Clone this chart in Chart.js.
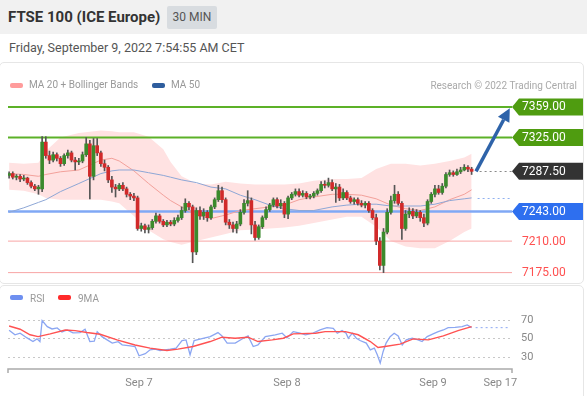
<!DOCTYPE html>
<html><head><meta charset="utf-8">
<script src="https://cdn.jsdelivr.net/npm/chart.js@4.4.0/dist/chart.umd.min.js"></script>
<style>
html,body{margin:0;padding:0;background:#fff;width:587px;height:396px;overflow:hidden;font-family:Roboto,Arial,sans-serif;}
.abs{position:absolute;white-space:nowrap;line-height:1;}
#hdr{position:absolute;left:0;top:0;width:587px;height:34px;background:#f1f1f1;}
#title{left:8px;top:10px;font-size:15px;font-weight:bold;color:#333;}
#badge{left:167px;top:6px;width:50px;height:23px;background:#d8dce0;color:#555;font-size:12px;line-height:23px;text-align:center;border-radius:2px;}
#date{left:9px;top:42px;font-size:12.5px;color:#555;}
.panel{position:absolute;border:1px solid #e6e6e6;border-radius:5px;}
.sw{position:absolute;width:13px;height:5px;border-radius:2px;}
.lg{font-size:10px;color:#999;}
canvas{position:absolute;left:0;}
</style></head>
<body>
<div id="hdr"></div>
<div class="abs" id="title">FTSE 100 (ICE Europe)</div>
<div class="abs" id="badge">30 MIN</div>
<div class="abs" id="date">Friday, September 9, 2022 7:54:55 AM CET</div>
<div class="panel" style="left:-1px;top:62px;width:583px;height:220px;"></div>
<div class="panel" style="left:-1px;top:285px;width:583px;height:120px;"></div>
<canvas id="main" width="587" height="222" style="top:62px"></canvas>
<canvas id="rsi" width="587" height="110" style="top:286px"></canvas>
<div class="sw" style="left:10px;top:83px;background:#ff9c9c"></div>
<div class="abs lg" style="left:29px;top:80px;">MA 20 + Bollinger Bands</div>
<div class="sw" style="left:152px;top:83px;background:#2f5e9e"></div>
<div class="abs lg" style="left:171px;top:80px;">MA 50</div>
<div class="abs lg" style="right:10px;top:80.5px;color:#aaa;">Research © 2022 Trading Central</div>
<div class="sw" style="left:10px;top:295px;background:#6e8ff0"></div>
<div class="abs lg" style="left:30px;top:293.5px;">RSI</div>
<div class="sw" style="left:58px;top:295px;background:#ff2a2a"></div>
<div class="abs lg" style="left:78px;top:293.5px;">9MA</div>
<script>
// ---------- DATA (30-min candles, index 0..126) ----------
const opens  = [7283,7285,7281,7282,7279,7280,7275,7271,7268,7268,7320,7305,7300,7306,7302,7296,7305,7308,7300,7298,7299,7306,7318,7282,7316,7308,7296,7292,7278,7270,7268,7272,7268,7262,7260,7258,7224,7227,7223,7225,7232,7238,7232,7228,7231,7229,7233,7236,7244,7252,7248,7198,7244,7238,7242,7236,7248,7256,7266,7256,7231,7228,7224,7229,7242,7252,7255,7228,7214,7226,7236,7245,7250,7256,7249,7252,7240,7258,7262,7265,7261,7263,7259,7260,7263,7266,7273,7272,7275,7268,7270,7258,7264,7258,7254,7256,7252,7250,7252,7244,7236,7210,7183,7220,7242,7255,7262,7252,7224,7240,7243,7238,7242,7236,7230,7254,7262,7268,7264,7271,7284,7286,7284,7287,7289,7292,7290];
const highs  = [7287,7287,7284,7284,7283,7281,7277,7273,7272,7326,7326,7310,7309,7308,7304,7307,7311,7310,7303,7302,7309,7325,7322,7324,7324,7310,7300,7294,7282,7273,7274,7275,7270,7264,7263,7260,7230,7229,7228,7234,7241,7240,7234,7233,7233,7236,7239,7248,7257,7254,7250,7247,7248,7246,7244,7250,7258,7272,7270,7258,7234,7231,7232,7245,7256,7266,7258,7232,7228,7238,7248,7252,7258,7258,7256,7254,7260,7264,7268,7268,7266,7265,7262,7265,7268,7276,7277,7280,7278,7274,7273,7268,7266,7260,7258,7258,7255,7254,7254,7246,7240,7214,7224,7246,7260,7272,7265,7254,7244,7247,7246,7245,7244,7240,7256,7264,7272,7272,7274,7286,7289,7288,7290,7292,7295,7294,7292];
const lows   = [7280,7279,7278,7276,7277,7273,7269,7266,7262,7265,7302,7296,7298,7299,7293,7294,7302,7298,7289,7295,7297,7304,7257,7278,7305,7293,7288,7275,7264,7259,7266,7266,7259,7256,7255,7222,7221,7219,7219,7223,7230,7230,7226,7226,7227,7227,7231,7234,7242,7245,7186,7195,7234,7234,7232,7234,7246,7254,7253,7228,7224,7220,7219,7227,7240,7249,7218,7211,7212,7224,7234,7243,7248,7247,7246,7236,7235,7256,7260,7259,7259,7257,7257,7258,7261,7264,7269,7270,7266,7253,7255,7256,7256,7252,7251,7250,7248,7247,7242,7234,7206,7178,7175,7218,7240,7252,7250,7212,7222,7236,7235,7236,7232,7226,7228,7252,7259,7262,7262,7269,7282,7282,7283,7285,7288,7287,7284];
const closes = [7285,7281,7282,7279,7280,7275,7271,7268,7270,7320,7305,7300,7306,7302,7296,7305,7308,7300,7298,7299,7306,7318,7282,7316,7308,7296,7292,7278,7270,7268,7272,7268,7262,7260,7258,7224,7227,7223,7225,7232,7238,7232,7228,7231,7229,7233,7236,7244,7252,7248,7198,7244,7238,7242,7236,7248,7256,7266,7256,7231,7228,7224,7229,7242,7252,7255,7228,7214,7226,7236,7245,7250,7256,7249,7252,7240,7258,7262,7265,7261,7263,7259,7260,7263,7266,7273,7272,7275,7268,7270,7258,7264,7258,7254,7256,7252,7250,7252,7244,7236,7210,7183,7220,7242,7255,7262,7252,7224,7240,7243,7238,7242,7236,7230,7254,7262,7268,7264,7271,7284,7286,7284,7287,7289,7292,7290,7287.5];

// indicator readings (candle index -> value)
const maIdx   = [0,4,8,10,14,19,25,28,30,34,38,42,44,47,51,55,59,63,67,71,75,79,83,88,92,96,100,104,108,112,116,120,124,126];
const ma20    = [7285,7284,7282,7284,7287,7289,7300,7302,7299,7288,7274,7261,7255,7248,7239,7235,7239,7244,7246,7248,7250,7256,7259,7262,7262,7261,7257,7250,7246,7244,7248,7256,7262,7267];
const ma50    = [7242,7247,7253,7256,7265,7274,7285,7288,7289,7289,7286,7283,7281,7278,7275,7270,7268,7261,7256,7250,7246,7244,7244,7248,7250,7251,7251,7249,7249,7249,7251,7255,7257,7258];
const bbUpper = [7297,7296,7297,7310,7325,7330,7333,7332,7331,7331,7326,7312,7298,7282,7274,7273,7276,7274,7273,7273,7273,7274,7277,7279,7279,7280,7290,7296,7296,7294,7296,7299,7303,7307];
const bbLower = [7267,7266,7262,7258,7256,7256,7256,7254,7252,7238,7222,7212,7209,7206,7210,7214,7218,7222,7223,7224,7225,7227,7230,7234,7237,7237,7226,7210,7204,7202,7202,7210,7220,7224];

const rsiIdx = [0,1.6,3,4.9,6.5,7.6,8.4,9,10.4,11.7,13.1,14.4,15.8,17.4,19.3,20.7,22,23.2,24,25.3,26.7,28.1,29.7,30.8,33,34.3,35.4,37.1,38.4,39.8,41.1,42.5,43.9,45.5,47.1,48.2,49.3,50.4,52,54.8,56.9,58,59.4,61.6,63.8,65.1,66.5,67.8,69.8,72.5,74.4,75.7,77.4,79.3,80.7,82.8,84.7,86.6,88.3,89.4,90.7,91.8,92.4,93.5,94.6,95.6,97.3,98.4,99.5,100.3,101.1,101.9,102.7,103.8,104.9,106,107.1,108.2,109.8,111.4,112.5,113.9,115.5,116.9,118.3,119.6,121.5,123.4,124.8,126];
const rsiVal = [59,54,55.7,50.6,46.7,49.6,46.7,69.3,62.8,60.3,61.4,57,59.2,56,56.4,60,46.7,47,57.4,52,48.5,45,46.5,43.1,42,41.3,31.3,33.5,37.7,38.5,37,37.7,38.5,39.6,47.8,48.5,32.4,47.8,49.2,52,56.4,52.8,45,45,50.3,52.8,41.3,43,52,54,55.7,50.6,57.4,55.7,54,55.7,59.2,61.7,61,55.7,58.5,55.7,50.3,55.7,50.3,47.8,45,37.7,39.6,32.4,23.4,36,45,52,55.7,52.8,43,48.5,50.3,48.5,46.7,52,55,57.4,59.2,61.7,62,62.8,64.6,61.7];
const ma9Idx = [0,3,5.7,7.9,11.2,15.3,18,21.2,24.8,29.4,34.3,38.4,43,46,50.1,54.8,58,61.6,65.1,67.8,71.7,74.7,77.4,83.5,86.1,91.6,95.1,98.4,100.5,102.4,106.5,110.1,114.2,118.3,122.3,126];
const ma9Val = [63.5,60,54,52,55,59.2,58.5,56.4,54.6,48.5,43,39.6,37,38.5,41.3,46.7,51.4,50.3,51.4,46.7,48.5,50.3,55,55.7,57.4,57.4,54,46.7,40.2,41.3,43.9,49.6,48.5,52.8,58.5,62.8];

const levelValues = [7359, 7325, 7287.5, 7243, 7210, 7175];
const levelKinds  = ['resistance','resistance','last','pivot','support','support'];
const levelLabels = ['7359.00','7325.00','7287.50','7243.00','7210.00','7175.00'];
const arrowFrom = [127.2, 7287.5];
const arrowTo   = [136.4, 7357.5];
const rsiGrid = [70, 50, 30];
const tickPositions = [35.4, 75.7, 115.5, 133.8];
const tickLabels = ['Sep 7', 'Sep 8', 'Sep 9', 'Sep 17'];

// ---------- STYLES ----------
const LEVEL_STYLE = {
  resistance: {line:'#5cb128', width:2, tag:'#4f9c10', text:'#fff'},
  last:       {line:'#8a8a8a', width:1, dash:[2,3], tag:'#333', text:'#fff'},
  pivot:      {line:'#80a8f5', width:2.5, tag:'#2e6fef', text:'#fff'},
  support:    {line:'#f8a5a5', width:1, tag:null, text:'#ff5050'}
};
const FONT = 'Roboto, Arial, sans-serif';
const X_RANGE = {min:-0.3, max:137};
const pts = (xs, ys) => xs.map((x,k)=>({x, y:ys[k]}));
const idx = opens.map((_, i) => i);

const mainPlugin = {
  id: 'mainDeco',
  afterDatasetDraw(chart, args) {
    if (chart.data.datasets[args.index].label !== 'bbL') return;
    const {ctx, chartArea:a, scales:{y}} = chart;
    ctx.save();
    levelValues.forEach((v,k) => {
      const st = LEVEL_STYLE[levelKinds[k]];
      if (st.dash) return;
      const py = y.getPixelForValue(v);
      ctx.strokeStyle = st.line; ctx.lineWidth = st.width;
      ctx.beginPath(); ctx.moveTo(a.left, py); ctx.lineTo(a.right, py); ctx.stroke();
    });
    ctx.restore();
  },
  afterDatasetsDraw(chart) {
    const {ctx, chartArea:a, scales:{x, y}} = chart;
    ctx.save();
    const lastX = x.getPixelForValue(idx.length - 1);
    levelValues.forEach((v,k) => {
      const st = LEVEL_STYLE[levelKinds[k]];
      if (!st.dash) return;
      const py = Math.round(y.getPixelForValue(v)) + 0.5;
      ctx.strokeStyle = st.line; ctx.lineWidth = st.width; ctx.setLineDash(st.dash);
      ctx.beginPath(); ctx.moveTo(lastX + 8, py); ctx.lineTo(a.right, py); ctx.stroke();
    });
    const m50y = Math.round(y.getPixelForValue(ma50[ma50.length-1])) + 0.5;
    ctx.strokeStyle = '#8fb0f0'; ctx.lineWidth = 1; ctx.setLineDash([2,3]);
    ctx.beginPath(); ctx.moveTo(x.getPixelForValue(maIdx[maIdx.length-1]) + 6, m50y); ctx.lineTo(a.right, m50y); ctx.stroke();
    ctx.setLineDash([]);
    const x0 = x.getPixelForValue(arrowFrom[0]), y0 = y.getPixelForValue(arrowFrom[1]);
    const x1 = x.getPixelForValue(arrowTo[0]), y1 = y.getPixelForValue(arrowTo[1]);
    const ang = Math.atan2(y1 - y0, x1 - x0), hl = 13, hw = 6.5;
    const bx = x1 - hl*Math.cos(ang), by = y1 - hl*Math.sin(ang);
    ctx.strokeStyle = '#2e63a9'; ctx.fillStyle = '#2e63a9'; ctx.lineWidth = 3.5;
    ctx.beginPath(); ctx.moveTo(x0, y0); ctx.lineTo(bx, by); ctx.stroke();
    ctx.beginPath(); ctx.moveTo(x1, y1);
    ctx.lineTo(bx + hw*Math.sin(ang), by - hw*Math.cos(ang));
    ctx.lineTo(bx - hw*Math.sin(ang), by + hw*Math.cos(ang));
    ctx.closePath(); ctx.fill();
    ctx.font = '12px ' + FONT; ctx.textBaseline = 'middle'; ctx.textAlign = 'left';
    levelValues.forEach((v,k) => {
      const st = LEVEL_STYLE[levelKinds[k]];
      const py = y.getPixelForValue(v);
      const L = a.right, R = chart.width - 4, h = 8.5;
      if (st.tag) {
        ctx.fillStyle = st.tag;
        ctx.beginPath(); ctx.moveTo(L, py); ctx.lineTo(L + 7, py - h); ctx.lineTo(R, py - h);
        ctx.lineTo(R, py + h); ctx.lineTo(L + 7, py + h); ctx.closePath(); ctx.fill();
      }
      ctx.fillStyle = st.text;
      ctx.fillText(levelLabels[k], L + 10, py + 0.5);
    });
    ctx.restore();
  }
};

new Chart(document.getElementById('main'), {
  type: 'bar',
  data: { datasets: [
    {type:'line', label:'bbU', data: pts(maIdx, bbUpper), borderColor:'transparent', borderWidth:0, pointRadius:0, fill:'+1', backgroundColor:'#ffe2e2', order:6},
    {type:'line', label:'bbL', data: pts(maIdx, bbLower), borderColor:'transparent', borderWidth:0, pointRadius:0, fill:false, order:5},
    {type:'line', label:'ma20', data: pts(maIdx, ma20), borderColor:'#f3a19b', borderWidth:1, pointRadius:0, fill:false, order:3},
    {type:'line', label:'ma50', data: pts(maIdx, ma50), borderColor:'#8ea7d6', borderWidth:1, pointRadius:0, fill:false, order:2},
    {label:'wick', data: idx.map(i=>({x:i, y:[lows[i], highs[i]]})), backgroundColor:'#555', barThickness:1, grouped:false, order:1},
    {label:'body', data: idx.map(i=>({x:i, y:[opens[i], closes[i]]})), backgroundColor: idx.map(i => closes[i] >= opens[i] ? '#3b8a2c' : '#d12a2a'), barThickness:3, grouped:false, minBarLength:1, order:0}
  ]},
  options: {
    responsive:false, animation:false, devicePixelRatio:1,
    layout:{padding:{left:8, right:75, top:33, bottom:4}},
    plugins:{legend:{display:false}, tooltip:{enabled:false}},
    scales:{
      x:{type:'linear', min:X_RANGE.min, max:X_RANGE.max, display:false, offset:false},
      y:{min:7166.8, max:7372.3, display:false}
    }
  },
  plugins:[mainPlugin]
});

const rsiPlugin = {
  id: 'rsiDeco',
  beforeDatasetsDraw(chart) {
    const {ctx, chartArea:a, scales:{y}} = chart;
    ctx.save();
    ctx.strokeStyle = '#c8c8c8'; ctx.lineWidth = 1; ctx.setLineDash([2,3]);
    ctx.font = '11px ' + FONT; ctx.fillStyle = '#888'; ctx.textBaseline = 'middle';
    rsiGrid.forEach(v => {
      const py = Math.round(y.getPixelForValue(v)) + 0.5;
      ctx.beginPath(); ctx.moveTo(a.left, py); ctx.lineTo(a.right, py); ctx.stroke();
      ctx.fillText(String(v), a.right + 9, py);
    });
    ctx.restore();
  },
  afterDatasetsDraw(chart) {
    const {ctx, chartArea:a, scales:{x, y}} = chart;
    ctx.save();
    const ly = y.getPixelForValue(rsiVal[rsiVal.length-1]);
    ctx.strokeStyle = '#8ba6f2'; ctx.lineWidth = 1; ctx.setLineDash([2,3]);
    ctx.beginPath(); ctx.moveTo(x.getPixelForValue(rsiIdx[rsiIdx.length-1]) + 4, ly); ctx.lineTo(a.right - 2, ly); ctx.stroke();
    ctx.setLineDash([]);
    ctx.strokeStyle = '#aaa'; ctx.lineWidth = 1.5;
    const by = a.bottom;
    ctx.beginPath(); ctx.moveTo(a.left, by + 4); ctx.lineTo(a.left, by); ctx.lineTo(a.right, by); ctx.lineTo(a.right, by + 4); ctx.stroke();
    ctx.font = '11px ' + FONT; ctx.fillStyle = '#888'; ctx.textAlign = 'center'; ctx.textBaseline = 'alphabetic';
    tickPositions.forEach((t,k) => ctx.fillText(tickLabels[k], x.getPixelForValue(t), by + 16.5));
    ctx.restore();
  }
};

new Chart(document.getElementById('rsi'), {
  type: 'line',
  data: { datasets: [
    {label:'rsi', data: pts(rsiIdx, rsiVal), borderColor:'#8ba6f2', borderWidth:1.3, pointRadius:0, order:1},
    {label:'ma9', data: pts(ma9Idx, ma9Val), borderColor:'#ff5252', borderWidth:1.4, pointRadius:0, order:0}
  ]},
  options: {
    responsive:false, animation:false, devicePixelRatio:1,
    layout:{padding:{left:8, right:75, top:19, bottom:27}},
    plugins:{legend:{display:false}, tooltip:{enabled:false}},
    scales:{
      x:{type:'linear', min:X_RANGE.min, max:X_RANGE.max, display:false},
      y:{min:17, max:86.2, display:false}
    }
  },
  plugins:[rsiPlugin]
});
</script>
</body></html>
